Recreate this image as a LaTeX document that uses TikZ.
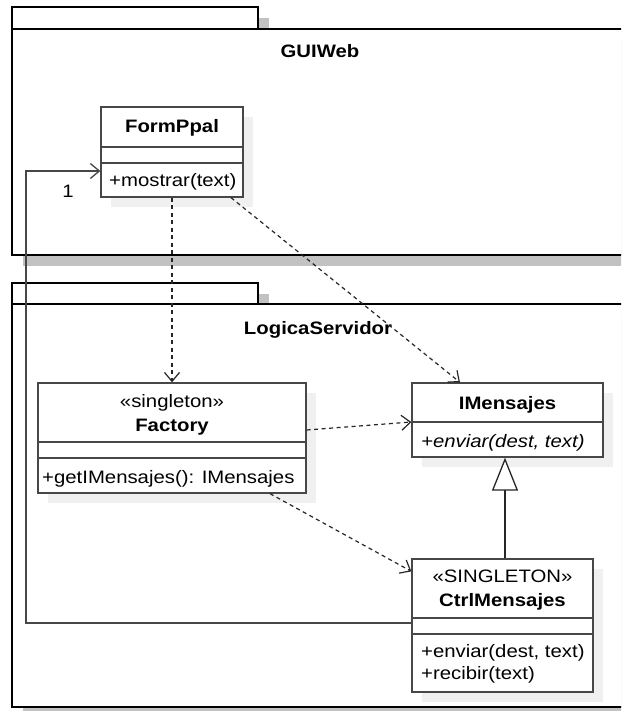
\documentclass[tikz,border=0pt]{standalone}
\usepackage{fontspec}
\setmainfont{Liberation Sans}[FakeStretch=1.13]
\usetikzlibrary{arrows.meta, positioning, shadows}

\begin{document}
\begin{tikzpicture}
  [
    x=1pt, y=-1pt,
    font=\fontsize{18}{21}\selectfont,
    Class/.style={rectangle, draw=black!72, fill=white, line width=1.3pt, inner sep=0pt,
      drop shadow={shadow xshift=10pt, shadow yshift=-10pt, opacity=1, fill=black!6}},
    Sep/.style={draw=black!72, line width=1.3pt},
    Pkg/.style={draw=black, line width=1.6pt, fill=white,
      drop shadow={shadow xshift=11pt, shadow yshift=-11pt, opacity=1, fill=black!24}},
    Txt/.style={inner sep=0pt, anchor=base},
    TxtL/.style={inner sep=0pt, anchor=base west},
    Dep/.style={draw=black!85, line width=1.2pt, dash pattern=on 4pt off 3.5pt,
      -{Straight Barb[length=9pt, width=15pt, line width=1.2pt]}},
    Assoc/.style={draw=black!72, line width=1.3pt,
      -{Straight Barb[length=9pt, width=15pt, line width=1.3pt]}},
    Gen/.style={draw=black!85, line width=1.3pt,
      -{Triangle[open, length=33pt, width=26pt, fill=white, line width=1.3pt]}}
  ]
  \useasboundingbox (0,0) rectangle (621,711);
  \clip (0,0) rectangle (621,711);

  % Packages
  \draw[Pkg] (12,7) rectangle (258,29);
  \draw[Pkg] (12,29) rectangle (650,255);
  \node[Txt, font=\fontsize{18}{21}\selectfont\bfseries] (guiweb) at (320,58) {GUIWeb};

  \draw[Pkg] (12,283) rectangle (258,304);
  \draw[Pkg] (12,304) rectangle (650,707);
  \node[Txt, font=\fontsize{18}{21}\selectfont\bfseries] (logica) at (318,334) {LogicaServidor};

  % Classes
  \node[Class, minimum width=142pt, minimum height=90pt] (form) at (172,152) {};
  \draw[Sep] (form.west |- 0,147) -- (form.east |- 0,147);
  \draw[Sep] (form.west |- 0,163) -- (form.east |- 0,163);
  \node[Txt, font=\fontsize{18}{21}\selectfont\bfseries] at (172,133) {FormPpal};
  \node[TxtL] at (109,187) {+mostrar(text)};

  \node[Class, minimum width=268pt, minimum height=110pt] (fact) at (172,438) {};
  \draw[Sep] (fact.west |- 0,442) -- (fact.east |- 0,442);
  \draw[Sep] (fact.west |- 0,458) -- (fact.east |- 0,458);
  \node[Txt] at (172,407) {«singleton»};
  \node[Txt, font=\fontsize{18}{21}\selectfont\bfseries] at (172,431) {Factory};
  \node[TxtL] at (42,483) {+getIMensajes(): IMensajes};

  \node[Class, minimum width=191pt, minimum height=74pt] (imen) at (507.5,420) {};
  \draw[Sep] (imen.west |- 0,422) -- (imen.east |- 0,422);
  \node[Txt, font=\fontsize{18}{21}\selectfont\bfseries] at (507.5,409) {IMensajes};
  \node[TxtL, font=\fontsize{18}{21}\selectfont\itshape] at (421,447) {+enviar(dest, text)};

  \node[Class, minimum width=181pt, minimum height=133pt] (ctrl) at (502.5,625.5) {};
  \draw[Sep] (ctrl.west |- 0,618) -- (ctrl.east |- 0,618);
  \draw[Sep] (ctrl.west |- 0,634) -- (ctrl.east |- 0,634);
  \node[Txt] at (502.5,582) {«SINGLETON»};
  \node[Txt, font=\fontsize{18}{21}\selectfont\bfseries] at (502.5,606) {CtrlMensajes};
  \node[TxtL] at (421,657) {+enviar(dest, text)};
  \node[TxtL] at (421,679) {+recibir(text)};

  % Connectors
  \coordinate (elbow) at (26,400);
  \draw[Assoc] ([yshift=2.5pt]ctrl.west) -| (elbow) |- ([yshift=-19pt]form.west);
  \node[Txt] (mult) at (68,198) {1};

  \draw[Dep] (form.south) -- (fact.north);
  \draw[Dep] ([xshift=59pt]form.south) -- ([xshift=-47.5pt]imen.north);
  \draw[Dep] ([yshift=8pt]fact.east) -- ([yshift=-2pt]imen.west);
  \draw[Dep] ([xshift=98pt]fact.south) -- ([yshift=-13pt]ctrl.north west);
  \draw[Gen] ([xshift=2.5pt]ctrl.north) -- ([xshift=-2.5pt]imen.south);

\end{tikzpicture}
\end{document}
